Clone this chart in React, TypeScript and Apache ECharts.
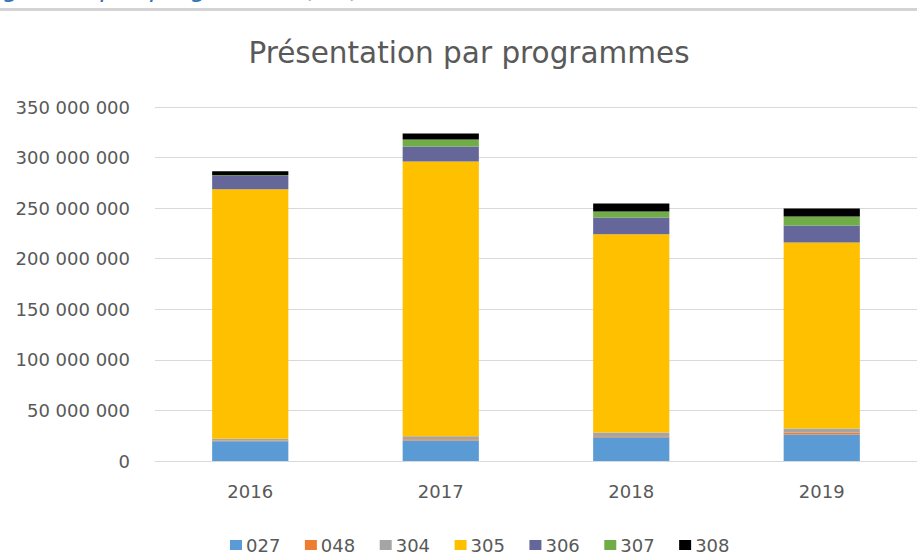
import React, { useEffect, useRef } from "react";
import * as echarts from "echarts";

const years = ["2016", "2017", "2018", "2019"];
const programmes = ["027", "048", "304", "305", "306", "307", "308"];
const colors = ["#5B9BD5", "#ED7D31", "#A5A5A5", "#FFC000", "#656699", "#70AD47", "#000000"];

const p027 = [19600000, 20300000, 23500000, 26200000];
const p048 = [300000, 1300000, 1000000, 2000000];
const p304 = [2000000, 2900000, 3700000, 3900000];
const p305 = [246800000, 271600000, 196000000, 183900000];
const p306 = [13200000, 14900000, 16600000, 16800000];
const p307 = [700000, 6900000, 5900000, 8900000];
const p308 = [3900000, 5900000, 7900000, 7900000];

const seriesValues = [p027, p048, p304, p305, p306, p307, p308];

const FONT = "DejaVu Sans";

function fmt(v: number): string {
  return String(Math.round(v)).replace(/\B(?=(\d{3})+(?!\d))/g, " ");
}

export default function App() {
  const ref = useRef<HTMLDivElement>(null);
  useEffect(() => {
    if (!ref.current) return;
    const chart = echarts.init(ref.current, null, { renderer: "svg" });
    chart.setOption({
      animation: false,
      backgroundColor: "#ffffff",
      title: {
        text: "Présentation par programmes",
        left: 464,
        top: 33,
        textAlign: "center",
        textStyle: { fontFamily: FONT, fontSize: 29.5, fontWeight: "normal", color: "#595959" },
      },
      graphic: [
        {
          type: "rect",
          shape: { x: 0, y: 8, width: 917, height: 3 },
          style: { fill: "#d4d4d4" },
          silent: true,
        },
        {
          type: "text",
          x: -44,
          y: 0.5,
          style: {
            text: "budgétaire par programme (M€)",
            fontFamily: FONT,
            fontSize: 25,
            fontStyle: "italic",
            fill: "#2E74B5",
            verticalAlign: "bottom",
          },
          silent: true,
        },
      ],
      legend: {
        data: programmes,
        left: 230,
        top: 536,
        padding: 0,
        itemWidth: 12,
        itemHeight: 10,
        itemGap: 24.5,
        icon: "rect",
        textStyle: { fontFamily: FONT, fontSize: 18, color: "#595959", padding: [0, 0, 0, -1] },
      },
      grid: { left: 155, top: 107, width: 773, height: 354 },
      xAxis: {
        type: "category",
        data: years,
        axisLine: { lineStyle: { color: "#d9d9d9", width: 1 } },
        axisTick: { show: false },
        axisLabel: { fontFamily: FONT, fontSize: 18, color: "#595959", margin: 21 },
      },
      yAxis: {
        type: "value",
        min: 0,
        max: 350000000,
        interval: 50000000,
        axisLine: { show: false },
        axisTick: { show: false },
        splitLine: { lineStyle: { color: "#d9d9d9", width: 1 } },
        axisLabel: {
          fontFamily: FONT,
          fontSize: 18,
          color: "#595959",
          margin: 25,
          formatter: (v: number) => fmt(v),
        },
      },
      series: programmes.map((name, i) => ({
        name,
        type: "bar",
        stack: "total",
        barWidth: "40%",
        itemStyle: { color: colors[i] },
        data: seriesValues[i],
      })),
    });
    return () => chart.dispose();
  }, []);
  return (
    <div
      ref={ref}
      style={{ position: "fixed", left: 0, top: 0, width: 917, height: 556, background: "#fff" }}
    />
  );
}
